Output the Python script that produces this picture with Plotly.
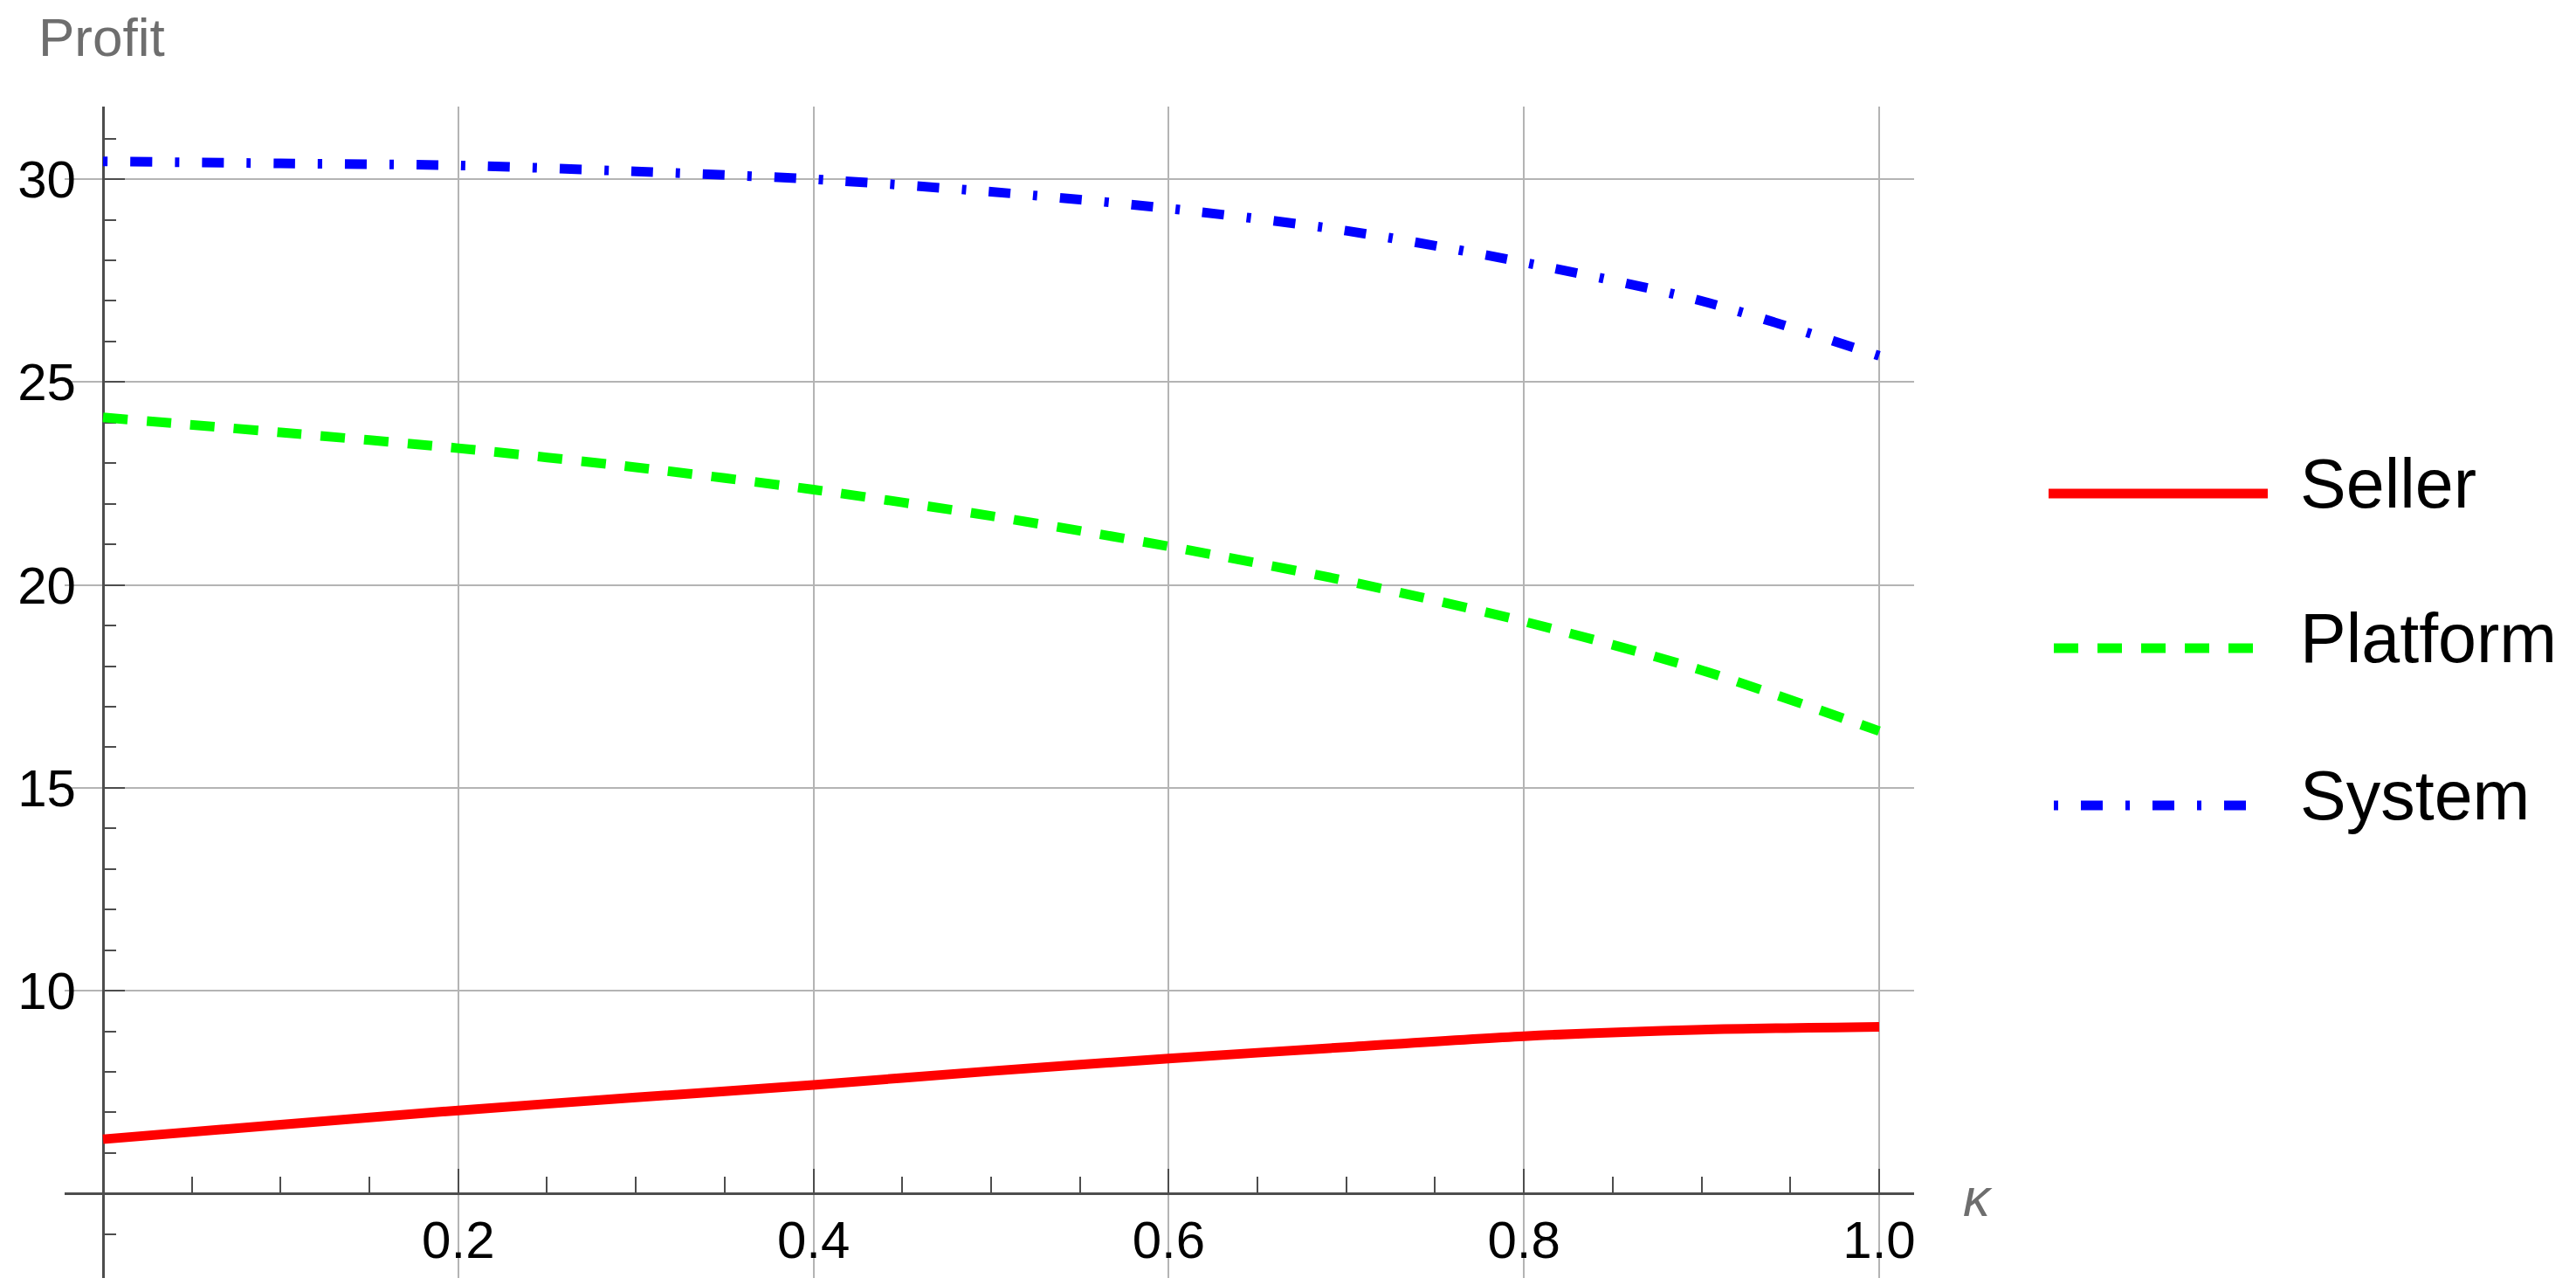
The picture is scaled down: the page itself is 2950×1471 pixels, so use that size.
import plotly.graph_objects as go

# ---------------- data ----------------
kappa = [0.0, 0.1, 0.2, 0.3, 0.4, 0.5, 0.6, 0.7, 0.8, 0.9, 1.0]
seller = [6.34, 6.70, 7.05, 7.37, 7.68, 8.02, 8.33, 8.61, 8.88, 9.04, 9.11]
platform = [24.13, 23.76, 23.37, 22.90, 22.35, 21.70, 20.95, 20.10, 19.10, 17.90, 16.40]
system = [30.44, 30.39, 30.34, 30.19, 30.00, 29.69, 29.28, 28.73, 27.95, 27.00, 25.65]

series_names = ["Seller", "Platform", "System"]
series_values = [seller, platform, system]
series_colors = ["#FF0000", "#00FF00", "#0000FF"]
series_dashes = ["solid", "28px,22px", "5px,26px,25px,26px"]

x_major = [0.2, 0.4, 0.6, 0.8, 1.0]
x_major_labels = ["0.2", "0.4", "0.6", "0.8", "1.0"]
x_minor = [0.05, 0.1, 0.15, 0.25, 0.3, 0.35, 0.45, 0.5, 0.55,
           0.65, 0.7, 0.75, 0.85, 0.9, 0.95]
y_major = [10, 15, 20, 25, 30]
y_major_labels = ["10", "15", "20", "25", "30"]
y_minor = [4, 6, 7, 8, 9, 11, 12, 13, 14, 16, 17, 18, 19, 21, 22, 23, 24,
           26, 27, 28, 29, 31]

x_label = "κ"
y_label = "Profit"
axis_cross_y = 5.0  # horizontal axis crosses at Profit = 5

# ---------------- geometry / style ----------------
FONT = "Liberation Sans, Arial, sans-serif"
AX = "#4d4d4d"
GRID = "#b4b4b4"
W, H = 2934, 1455
OFF = 8  # page body margin
L_px, R_px, T_px, B_px = 74, 2192, 122, 1463  # plot area in screenshot pixels
l = L_px - OFF
t = T_px - OFF
plot_w = R_px - L_px
plot_h = B_px - T_px
r = W - l - plot_w
b = H - t - plot_h

x_range = [-0.02163, 1.01967]
y_range = [2.92, 31.79]


def px_x(px):
    return (px - L_px) / plot_w


def px_y(py):
    return (B_px - py) / plot_h


fig = go.Figure()
for name, vals, col, dash in zip(series_names, series_values, series_colors, series_dashes):
    fig.add_trace(go.Scatter(
        x=kappa, y=vals, name=name, mode="lines",
        line=dict(color=col, width=11, dash=dash, shape="spline", smoothing=0.8),
        showlegend=False,
    ))

fig.update_layout(
    width=W, height=H,
    margin=dict(l=l, r=r, t=t, b=b, pad=0, autoexpand=False),
    paper_bgcolor="white", plot_bgcolor="white",
    font=dict(family=FONT, color="black"),
    xaxis=dict(
        range=x_range, tickvals=x_major, ticktext=x_major_labels,
        ticks="inside", ticklen=27, tickwidth=2, tickcolor=AX,
        showline=True, linecolor=AX, linewidth=3,
        showgrid=True, gridcolor=GRID, gridwidth=2, zeroline=False,
        anchor="free", automargin=False,
        position=(axis_cross_y - y_range[0]) / (y_range[1] - y_range[0]),
        minor=dict(tickvals=x_minor, ticks="inside", ticklen=18, tickwidth=2,
                   tickcolor=AX, showgrid=False),
        tickfont=dict(size=60, color="black", family=FONT),
        ticklabelstandoff=0,
        layer="below traces",
    ),
    yaxis=dict(
        range=y_range, tickvals=y_major, ticktext=y_major_labels,
        ticks="inside", ticklen=23, tickwidth=2, tickcolor=AX,
        showline=True, linecolor=AX, linewidth=3,
        showgrid=True, gridcolor=GRID, gridwidth=2, zeroline=False,
        anchor="free", automargin=False,
        position=(0 - x_range[0]) / (x_range[1] - x_range[0]),
        minor=dict(tickvals=y_minor, ticks="inside", ticklen=13, tickwidth=2,
                   tickcolor=AX, showgrid=False),
        tickfont=dict(size=60, color="black", family=FONT),
        ticklabelstandoff=18,
        layer="below traces",
    ),
)

# axis labels
fig.add_annotation(text=y_label, xref="paper", yref="paper",
                   x=px_x(42), y=px_y(42), xanchor="left", yanchor="middle",
                   showarrow=False, font=dict(size=62, color="#6e6e6e", family=FONT))
fig.add_annotation(text="<i>" + x_label + "</i>", xref="paper", yref="paper",
                   x=px_x(2265), y=px_y(1370), xanchor="center", yanchor="middle",
                   showarrow=False, font=dict(size=62, color="#6e6e6e", family=FONT))

# legend (drawn manually to match the long line samples)
legend_line_y = [565, 742, 922]
legend_x0 = [2346, 2352, 2352]
for name, col, dash, ly, lx0 in zip(series_names, series_colors, series_dashes,
                                    legend_line_y, legend_x0):
    fig.add_shape(type="line", xref="paper", yref="paper",
                  x0=px_x(lx0), x1=px_x(2597), y0=px_y(ly), y1=px_y(ly),
                  line=dict(color=col, width=11, dash=dash))
    fig.add_annotation(text=name, xref="paper", yref="paper",
                       x=px_x(2632), y=px_y(ly - 12), xanchor="left", yanchor="middle",
                       showarrow=False, font=dict(size=79, color="black", family=FONT))

fig.write_html("out.html", config={"displayModeBar": False})
